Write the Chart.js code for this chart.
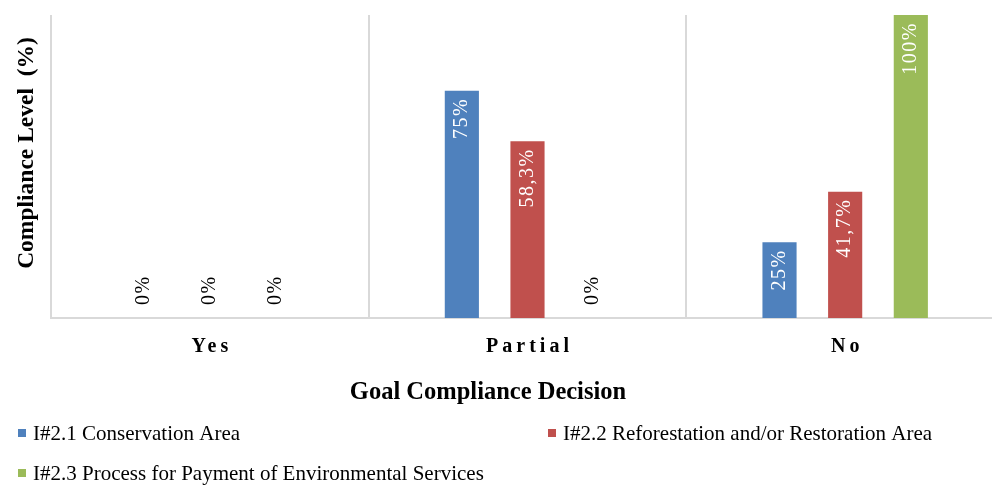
<!DOCTYPE html>
<html>
<head>
<meta charset="utf-8">
<script src="https://cdn.jsdelivr.net/npm/chart.js@4/dist/chart.umd.min.js"></script>
<style>
  html, body { margin: 0; padding: 0; background: #fff; overflow: hidden; }
  #wrap { width: 992px; height: 485px; overflow: hidden; position: relative; }
  canvas { display: block; }
</style>
</head>
<body>
<div id="wrap"><canvas id="chart" width="1004" height="485"></canvas></div>
<script>
// ── data ──────────────────────────────────────────────────────────────────
const categories    = ['Yes', 'Partial', 'No'];
const seriesNames   = [
  'I#2.1 Conservation Area',
  'I#2.2 Reforestation and/or Restoration Area',
  'I#2.3 Process for Payment of Environmental Services',
];
const conservation  = [0, 75, 25];
const reforestation = [0, 58.3, 41.7];
const payment       = [0, 0, 100];
const xTitle = 'Goal Compliance Decision';
const yTitle = 'Compliance Level  (%)';

const BLUE  = '#4F81BD';
const RED   = '#C0504D';
const GREEN = '#9BBB59';
const GRID  = '#D9D9D9';
const SERIF = "'Liberation Serif', 'Times New Roman', serif";

const fmt = v => String(v).replace('.', ',') + '%';

// axis titles + category labels (Excel offsets them from the plot centre)
const axisText = {
  id: 'axisText',
  afterDraw(chart) {
    const { ctx, scales: { x } } = chart;
    const sp = 4;
    ctx.save();
    ctx.fillStyle = '#000';
    ctx.textAlign = 'center';
    ctx.textBaseline = 'middle';

    ctx.font = `bold 20px ${SERIF}`;
    ctx.letterSpacing = sp + 'px';
    categories.forEach((c, i) => {
      ctx.fillText(c, x.getPixelForTick(i) + sp / 2, 347);
    });
    ctx.letterSpacing = '0px';

    ctx.font = `bold 24.5px ${SERIF}`;
    ctx.fillText(xTitle, 488, 393);

    ctx.font = `bold 23.5px ${SERIF}`;
    ctx.translate(27, 153);
    ctx.rotate(-Math.PI / 2);
    ctx.fillText(yTitle, 0, 0);
    ctx.restore();
  },
};

// rotated value labels (white inside bars, black for zero)
const barLabels = {
  id: 'barLabels',
  afterDatasetsDraw(chart) {
    const { ctx } = chart;
    ctx.save();
    ctx.font = `20px ${SERIF}`;
    ctx.letterSpacing = '1.5px';
    ctx.textBaseline = 'middle';
    chart.data.datasets.forEach((ds, di) => {
      chart.getDatasetMeta(di).data.forEach((bar, i) => {
        const v = ds.data[i];
        ctx.save();
        if (v === 0) {
          ctx.translate(bar.x, bar.base - 13);
          ctx.rotate(-Math.PI / 2);
          ctx.textAlign = 'left';
          ctx.fillStyle = '#000';
        } else {
          ctx.translate(bar.x, bar.y + 7);
          ctx.rotate(-Math.PI / 2);
          ctx.textAlign = 'right';
          ctx.fillStyle = '#fff';
        }
        ctx.fillText(fmt(v), 0, 0);
        ctx.restore();
      });
    });
    ctx.restore();
  },
};

// legend laid out like the original (two columns)
const sideLegend = {
  id: 'sideLegend',
  afterDraw(chart) {
    const { ctx } = chart;
    const spots = [[10, 433], [540, 433], [10, 473]];
    ctx.save();
    ctx.font = `21px ${SERIF}`;
    ctx.textBaseline = 'middle';
    ctx.textAlign = 'left';
    chart.data.datasets.forEach((ds, i) => {
      const [lx, ly] = spots[i];
      ctx.fillStyle = ds.backgroundColor;
      ctx.fillRect(lx + 8, ly - 4, 8, 8);
      ctx.fillStyle = '#000';
      ctx.fillText(ds.label, lx + 23, ly + 1);
    });
    ctx.restore();
  },
};

new Chart(document.getElementById('chart'), {
  type: 'bar',
  data: {
    labels: categories,
    datasets: [
      { label: seriesNames[0], data: conservation,  backgroundColor: BLUE },
      { label: seriesNames[1], data: reforestation, backgroundColor: RED },
      { label: seriesNames[2], data: payment,       backgroundColor: GREEN },
    ],
  },
  options: {
    responsive: false,
    devicePixelRatio: 1,
    animation: false,
    categoryPercentage: 0.62,
    barPercentage: 0.52,
    layout: { padding: { left: 51, top: 15, right: 0, bottom: 167 } },
    plugins: {
      legend: { display: false },
      tooltip: { enabled: false },
    },
    scales: {
      x: {
        grid: { color: GRID, lineWidth: 2, drawTicks: false, offset: true },
        border: { color: GRID, width: 2 },
        ticks: { display: false },
      },
      y: {
        min: 0, max: 100,
        grid: { display: false, drawTicks: false },
        border: { display: false },
        ticks: { display: false },
      },
    },
  },
  plugins: [axisText, barLabels, sideLegend],
});
</script>
</body>
</html>
